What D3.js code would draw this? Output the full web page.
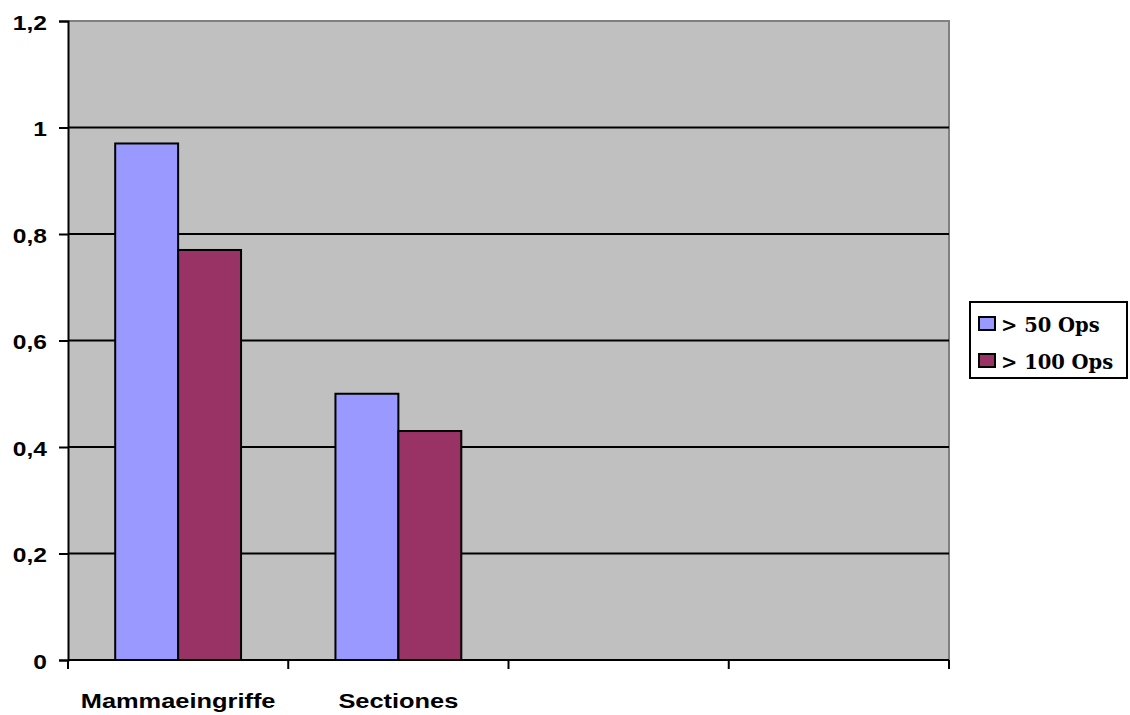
<!DOCTYPE html>
<html><head><meta charset="utf-8">
<script src="https://cdn.jsdelivr.net/npm/d3@7"></script>
<style>body{margin:0;background:#fff}</style>
</head><body>
<svg id="c" width="1130" height="715"></svg>
<script>
const categories = ["Mammaeingriffe", "Sectiones", "", ""];
const series50 = [0.97, 0.5, null, null];
const series100 = [0.77, 0.43, null, null];
const seriesNames = ["> 50 Ops", "> 100 Ops"];
const yTicks = [0, 0.2, 0.4, 0.6, 0.8, 1, 1.2];
const yTickLabels = ["0", "0,2", "0,4", "0,6", "0,8", "1", "1,2"];

const svg = d3.select("#c");
const L = 68, R = 949, T = 21, B = 660;
const SX = 1.17, SXX = 1.21;
const y = d3.scaleLinear().domain([0, 1.2]).range([B, T]);
const x = d3.scaleBand().domain(d3.range(categories.length)).range([L, R]).paddingInner(0).paddingOuter(0);
const bw = x.bandwidth() / 3.5;
const colors = ["#9999FF", "#993366"];

svg.append("rect").attr("x", L).attr("y", T).attr("width", R - L).attr("height", B - T).attr("fill", "#C0C0C0");
svg.append("path").attr("d", `M${L},${T}H${R}V${B}`).attr("fill", "none").attr("stroke", "#808080").attr("stroke-width", 2);
svg.selectAll(".grid").data(yTicks.filter(t => t > 0 && t < 1.2)).enter().append("line")
  .attr("x1", L).attr("x2", R).attr("y1", d => y(d)).attr("y2", d => y(d))
  .attr("stroke", "#000").attr("stroke-width", 2);

const data = [series50, series100];
data.forEach((s, si) => {
  svg.selectAll(".b" + si).data(s.map((v, i) => ({v, i})).filter(d => d.v != null)).enter().append("rect")
    .attr("x", d => x(d.i) + 0.75 * bw + si * bw)
    .attr("y", d => y(d.v))
    .attr("width", bw)
    .attr("height", d => B - y(d.v))
    .attr("fill", colors[si]).attr("stroke", "#000").attr("stroke-width", 2);
});

const yAxis = d3.axisLeft(y).tickValues(yTicks).tickFormat((d, i) => yTickLabels[i]).tickSize(9).tickPadding(11);
const gy = svg.append("g").attr("transform", `translate(${L},0)`).call(yAxis);
gy.select(".domain").attr("stroke", "#000").attr("stroke-width", 2);
gy.selectAll(".tick line").attr("stroke", "#000").attr("stroke-width", 2);
gy.selectAll(".tick text").attr("font-family", "Liberation Sans, Arial, sans-serif").attr("font-weight", "bold")
  .attr("font-size", 21).attr("fill", "#000").attr("dy", "0.4em")
  .attr("x", -21 / SX).attr("transform", `scale(${SX},1)`);

const bounds = d3.range(categories.length + 1).map(i => L + i * x.bandwidth());
svg.append("line").attr("x1", L).attr("x2", R).attr("y1", B).attr("y2", B).attr("stroke", "#000").attr("stroke-width", 2);
svg.selectAll(".xt").data(bounds).enter().append("line")
  .attr("x1", d => d).attr("x2", d => d).attr("y1", B).attr("y2", B + 9).attr("stroke", "#000").attr("stroke-width", 2);
svg.selectAll(".xl").data(categories).enter().append("text")
  .attr("transform", (d, i) => `translate(${x(i) + x.bandwidth() / 2},707.5) scale(${SXX},1)`)
  .attr("text-anchor", "middle").attr("font-family", "Liberation Sans, Arial, sans-serif")
  .attr("font-weight", "bold").attr("font-size", 21).attr("fill", "#000").text(d => d);

const lg = svg.append("g");
lg.append("rect").attr("x", 970).attr("y", 302).attr("width", 157).attr("height", 76).attr("fill", "#fff").attr("stroke", "#000").attr("stroke-width", 2);
seriesNames.forEach((n, i) => {
  const yy = 331 + i * 37;
  lg.append("rect").attr("x", 979).attr("y", yy - 14).attr("width", 16).attr("height", 13).attr("fill", colors[i]).attr("stroke", "#000").attr("stroke-width", 2);
  lg.append("text").attr("x", 1001).attr("y", yy + 1).attr("font-family", "DejaVu Serif, Liberation Serif, serif")
    .attr("font-weight", "bold").attr("font-size", 19.5).attr("fill", "#000").text(n);
});
</script>
</body></html>
